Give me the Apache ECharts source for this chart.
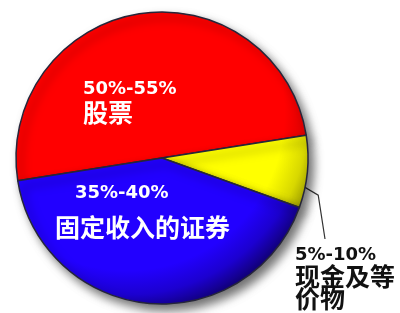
<!DOCTYPE html>
<html>
<head>
<meta charset="utf-8">
<script src="https://cdn.jsdelivr.net/npm/echarts@6/dist/echarts.min.js"></script>
<style>
html, body { margin: 0; padding: 0; background: #fff; }
#main { width: 400px; height: 313px; }
</style>
</head>
<body>
<div id="main"></div>
<script>
// data (order = clockwise from the left edge)
var names = ['股票', '现金及等\n价物', '固定收入的证券'];
var ranges = ['50%-55%', '5%-10%', '35%-40%'];
var values = [50, 8, 42];

var baseColors = ['#ff0000', '#ffff00', '#2200ff'];
var rimColors = ['#990000', '#8f8f00', '#12007a'];
var textColors = ['#ffffff', '#111111', '#ffffff'];

var CX = 162, CY = 158, R = 146;
var START = 189;

// label boxes (top-left) and line spacing
var labelPos = [[83, 78], [295, 245], [55, 182]];
var lineH = [[22, 25], [20, 22], [22, 46]];
var firstPad = [0, 0, 20];

function shade(i) {
    return {
        type: 'radial',
        x: CX - 35, y: CY - 45, r: 202,
        global: true,
        colorStops: [
            { offset: 0, color: baseColors[i] },
            { offset: 0.78, color: baseColors[i] },
            { offset: 0.9, color: echarts.color.lerp(0.35, [baseColors[i], rimColors[i]]) },
            { offset: 1, color: rimColors[i] }
        ]
    };
}

function polar(deg, r) {
    var a = deg * Math.PI / 180;
    return [CX + r * Math.cos(a), CY - r * Math.sin(a)];
}

var data = values.map(function (v, i) {
    var outside = i === 1;
    return {
        value: v,
        name: names[i],
        itemStyle: { color: shade(i) },
        label: {
            show: true,
            position: outside ? 'outside' : 'inside',
            rich: {
                n: {
                    fontFamily: 'DejaVu Sans', fontWeight: 'bold', fontSize: 18,
                    color: textColors[i], lineHeight: lineH[i][0],
                    padding: [0, 0, 0, firstPad[i]]
                },
                c: {
                    fontFamily: 'Noto Sans CJK SC', fontWeight: 'bold', fontSize: 25,
                    color: textColors[i], lineHeight: lineH[i][1]
                }
            }
        },
        labelLine: { show: outside }
    };
});

// mid angle of each slice, for the leader line
var total = values.reduce(function (a, b) { return a + b; }, 0);
var mids = [];
var acc = START;
values.forEach(function (v) {
    var span = v / total * 360;
    mids.push(acc - span / 2);
    acc -= span;
});

var myChart = echarts.init(document.getElementById('main'));
var option = {
    animation: false,
    backgroundColor: '#ffffff',
    series: [
        {
            type: 'pie',
            center: [CX, CY],
            radius: R,
            startAngle: START,
            clockwise: true,
            avoidLabelOverlap: false,
            silent: true,
            itemStyle: {
                borderColor: '#26263a',
                borderWidth: 1.5,
                shadowBlur: 10,
                shadowOffsetX: 5,
                shadowOffsetY: 6,
                shadowColor: 'rgba(0,0,0,0.55)'
            },
            label: {
                formatter: function (p) {
                    var parts = names[p.dataIndex].split('\n').map(function (s) {
                        return '{c|' + s + '}';
                    });
                    return '{n|' + ranges[p.dataIndex] + '}\n' + parts.join('\n');
                }
            },
            labelLine: {
                lineStyle: { color: '#333333', width: 1.2 }
            },
            labelLayout: function (params) {
                var i = params.dataIndex;
                var res = {
                    x: labelPos[i][0],
                    y: labelPos[i][1],
                    align: 'left',
                    verticalAlign: 'top'
                };
                if (i === 1) {
                    res.labelLinePoints = [
                        polar(mids[i] - 3.5, R * 0.88),
                        polar(mids[i] - 8, R * 1.1),
                        [labelPos[i][0] + 30, labelPos[i][1] - 6]
                    ];
                }
                return res;
            },
            data: data
        }
    ]
};
myChart.setOption(option);
</script>
</body>
</html>
